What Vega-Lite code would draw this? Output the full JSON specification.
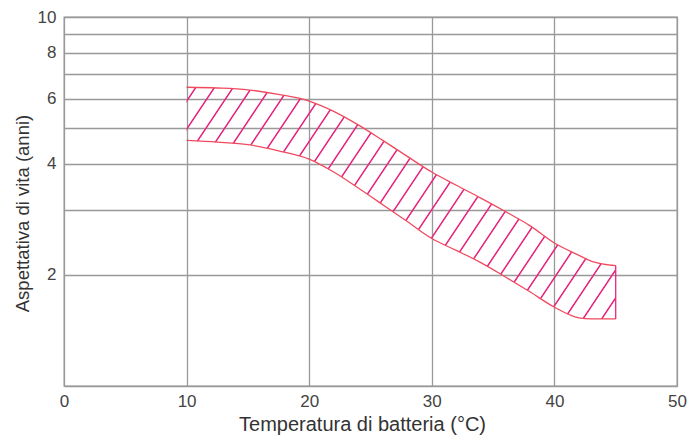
{
  "$schema": "https://vega.github.io/schema/vega-lite/v6.json",
  "width": 613,
  "height": 369,
  "autosize": {"type": "none"},
  "padding": {"left": 64, "top": 17, "right": 14, "bottom": 52},
  "background": "white",
  "config": {"font": "Liberation Sans", "view": {"stroke": "#999", "strokeWidth": 1.3}},
  "data": {"values": [
    {"x": 10, "upper": 6.45, "lower": 4.63},
    {"x": 12.5, "upper": 6.42, "lower": 4.58},
    {"x": 15, "upper": 6.35, "lower": 4.51},
    {"x": 17.5, "upper": 6.17, "lower": 4.34},
    {"x": 20, "upper": 5.92, "lower": 4.12},
    {"x": 22, "upper": 5.55, "lower": 3.80},
    {"x": 24, "upper": 5.10, "lower": 3.44},
    {"x": 26, "upper": 4.63, "lower": 3.10},
    {"x": 28, "upper": 4.19, "lower": 2.79},
    {"x": 30, "upper": 3.80, "lower": 2.51},
    {"x": 32, "upper": 3.50, "lower": 2.33},
    {"x": 34, "upper": 3.23, "lower": 2.16},
    {"x": 36, "upper": 2.97, "lower": 1.975},
    {"x": 38, "upper": 2.72, "lower": 1.80},
    {"x": 40, "upper": 2.44, "lower": 1.635},
    {"x": 42, "upper": 2.26, "lower": 1.53},
    {"x": 43, "upper": 2.18, "lower": 1.52},
    {"x": 44, "upper": 2.14, "lower": 1.52},
    {"x": 45, "upper": 2.12, "lower": 1.52}
  ]},
  "encoding": {
    "x": {
      "field": "x", "type": "quantitative",
      "scale": {"domain": [0, 50], "nice": false},
      "axis": {
        "values": [0, 10, 20, 30, 40, 50],
        "grid": true, "gridColor": "#999", "gridWidth": 1.3,
        "ticks": false, "domain": false, "labelFlush": false,
        "labelFontSize": 17, "labelColor": "#444", "labelPadding": 7,
        "title": "Temperatura di batteria (°C)", "titleFontSize": 20,
        "titleFontWeight": "normal", "titleColor": "#333", "titlePadding": 5,
        "titleX": 298
      }
    }
  },
  "layer": [
    {
      "mark": {
        "type": "area", "interpolate": "monotone",
        "fill": {
          "gradient": "linear", "x1": 0, "y1": 0, "x2": 1.2039, "y2": 0.4332,
          "stops": [
            {"offset": 0.0136, "color": "rgba(230,40,127,0)"}, {"offset": 0.0152, "color": "#e6287f"}, {"offset": 0.0168, "color": "#e6287f"}, {"offset": 0.0184, "color": "rgba(230,40,127,0)"},
            {"offset": 0.0456, "color": "rgba(230,40,127,0)"}, {"offset": 0.0472, "color": "#e6287f"}, {"offset": 0.0488, "color": "#e6287f"}, {"offset": 0.0504, "color": "rgba(230,40,127,0)"},
            {"offset": 0.0776, "color": "rgba(230,40,127,0)"}, {"offset": 0.0792, "color": "#e6287f"}, {"offset": 0.0808, "color": "#e6287f"}, {"offset": 0.0824, "color": "rgba(230,40,127,0)"},
            {"offset": 0.1096, "color": "rgba(230,40,127,0)"}, {"offset": 0.1112, "color": "#e6287f"}, {"offset": 0.1128, "color": "#e6287f"}, {"offset": 0.1144, "color": "rgba(230,40,127,0)"},
            {"offset": 0.1416, "color": "rgba(230,40,127,0)"}, {"offset": 0.1432, "color": "#e6287f"}, {"offset": 0.1448, "color": "#e6287f"}, {"offset": 0.1464, "color": "rgba(230,40,127,0)"},
            {"offset": 0.1736, "color": "rgba(230,40,127,0)"}, {"offset": 0.1752, "color": "#e6287f"}, {"offset": 0.1768, "color": "#e6287f"}, {"offset": 0.1784, "color": "rgba(230,40,127,0)"},
            {"offset": 0.2056, "color": "rgba(230,40,127,0)"}, {"offset": 0.2072, "color": "#e6287f"}, {"offset": 0.2088, "color": "#e6287f"}, {"offset": 0.2104, "color": "rgba(230,40,127,0)"},
            {"offset": 0.2376, "color": "rgba(230,40,127,0)"}, {"offset": 0.2392, "color": "#e6287f"}, {"offset": 0.2408, "color": "#e6287f"}, {"offset": 0.2424, "color": "rgba(230,40,127,0)"},
            {"offset": 0.2696, "color": "rgba(230,40,127,0)"}, {"offset": 0.2712, "color": "#e6287f"}, {"offset": 0.2728, "color": "#e6287f"}, {"offset": 0.2744, "color": "rgba(230,40,127,0)"},
            {"offset": 0.3016, "color": "rgba(230,40,127,0)"}, {"offset": 0.3032, "color": "#e6287f"}, {"offset": 0.3048, "color": "#e6287f"}, {"offset": 0.3064, "color": "rgba(230,40,127,0)"},
            {"offset": 0.3336, "color": "rgba(230,40,127,0)"}, {"offset": 0.3352, "color": "#e6287f"}, {"offset": 0.3368, "color": "#e6287f"}, {"offset": 0.3384, "color": "rgba(230,40,127,0)"},
            {"offset": 0.3656, "color": "rgba(230,40,127,0)"}, {"offset": 0.3672, "color": "#e6287f"}, {"offset": 0.3688, "color": "#e6287f"}, {"offset": 0.3704, "color": "rgba(230,40,127,0)"},
            {"offset": 0.3976, "color": "rgba(230,40,127,0)"}, {"offset": 0.3992, "color": "#e6287f"}, {"offset": 0.4008, "color": "#e6287f"}, {"offset": 0.4024, "color": "rgba(230,40,127,0)"},
            {"offset": 0.4296, "color": "rgba(230,40,127,0)"}, {"offset": 0.4312, "color": "#e6287f"}, {"offset": 0.4328, "color": "#e6287f"}, {"offset": 0.4344, "color": "rgba(230,40,127,0)"},
            {"offset": 0.4616, "color": "rgba(230,40,127,0)"}, {"offset": 0.4632, "color": "#e6287f"}, {"offset": 0.4648, "color": "#e6287f"}, {"offset": 0.4664, "color": "rgba(230,40,127,0)"},
            {"offset": 0.4936, "color": "rgba(230,40,127,0)"}, {"offset": 0.4952, "color": "#e6287f"}, {"offset": 0.4968, "color": "#e6287f"}, {"offset": 0.4984, "color": "rgba(230,40,127,0)"},
            {"offset": 0.5256, "color": "rgba(230,40,127,0)"}, {"offset": 0.5272, "color": "#e6287f"}, {"offset": 0.5288, "color": "#e6287f"}, {"offset": 0.5304, "color": "rgba(230,40,127,0)"},
            {"offset": 0.5576, "color": "rgba(230,40,127,0)"}, {"offset": 0.5592, "color": "#e6287f"}, {"offset": 0.5608, "color": "#e6287f"}, {"offset": 0.5624, "color": "rgba(230,40,127,0)"},
            {"offset": 0.5896, "color": "rgba(230,40,127,0)"}, {"offset": 0.5912, "color": "#e6287f"}, {"offset": 0.5928, "color": "#e6287f"}, {"offset": 0.5944, "color": "rgba(230,40,127,0)"},
            {"offset": 0.6216, "color": "rgba(230,40,127,0)"}, {"offset": 0.6232, "color": "#e6287f"}, {"offset": 0.6248, "color": "#e6287f"}, {"offset": 0.6264, "color": "rgba(230,40,127,0)"},
            {"offset": 0.6536, "color": "rgba(230,40,127,0)"}, {"offset": 0.6552, "color": "#e6287f"}, {"offset": 0.6568, "color": "#e6287f"}, {"offset": 0.6584, "color": "rgba(230,40,127,0)"},
            {"offset": 0.6856, "color": "rgba(230,40,127,0)"}, {"offset": 0.6872, "color": "#e6287f"}, {"offset": 0.6888, "color": "#e6287f"}, {"offset": 0.6904, "color": "rgba(230,40,127,0)"},
            {"offset": 0.7176, "color": "rgba(230,40,127,0)"}, {"offset": 0.7192, "color": "#e6287f"}, {"offset": 0.7208, "color": "#e6287f"}, {"offset": 0.7224, "color": "rgba(230,40,127,0)"},
            {"offset": 0.7496, "color": "rgba(230,40,127,0)"}, {"offset": 0.7512, "color": "#e6287f"}, {"offset": 0.7528, "color": "#e6287f"}, {"offset": 0.7544, "color": "rgba(230,40,127,0)"},
            {"offset": 0.7816, "color": "rgba(230,40,127,0)"}, {"offset": 0.7832, "color": "#e6287f"}, {"offset": 0.7848, "color": "#e6287f"}, {"offset": 0.7864, "color": "rgba(230,40,127,0)"},
            {"offset": 0.8136, "color": "rgba(230,40,127,0)"}, {"offset": 0.8152, "color": "#e6287f"}, {"offset": 0.8168, "color": "#e6287f"}, {"offset": 0.8184, "color": "rgba(230,40,127,0)"},
            {"offset": 0.8456, "color": "rgba(230,40,127,0)"}, {"offset": 0.8472, "color": "#e6287f"}, {"offset": 0.8488, "color": "#e6287f"}, {"offset": 0.8504, "color": "rgba(230,40,127,0)"},
            {"offset": 0.8776, "color": "rgba(230,40,127,0)"}, {"offset": 0.8792, "color": "#e6287f"}, {"offset": 0.8808, "color": "#e6287f"}, {"offset": 0.8824, "color": "rgba(230,40,127,0)"},
            {"offset": 0.9096, "color": "rgba(230,40,127,0)"}, {"offset": 0.9112, "color": "#e6287f"}, {"offset": 0.9128, "color": "#e6287f"}, {"offset": 0.9144, "color": "rgba(230,40,127,0)"},
            {"offset": 0.9416, "color": "rgba(230,40,127,0)"}, {"offset": 0.9432, "color": "#e6287f"}, {"offset": 0.9448, "color": "#e6287f"}, {"offset": 0.9464, "color": "rgba(230,40,127,0)"},
            {"offset": 0.9736, "color": "rgba(230,40,127,0)"}, {"offset": 0.9752, "color": "#e6287f"}, {"offset": 0.9768, "color": "#e6287f"}, {"offset": 0.9784, "color": "rgba(230,40,127,0)"}
          ]
        }
      },
      "encoding": {
        "y": {
          "field": "upper", "type": "quantitative",
          "scale": {"type": "log", "domain": [1, 10], "nice": false},
          "axis": {
            "values": [1, 2, 3, 4, 5, 6, 7, 8, 9, 10],
            "labelExpr": "datum.value % 2 == 0 ? datum.label : ''",
            "grid": true, "gridColor": "#999", "gridWidth": 1.3,
            "ticks": false, "domain": false, "labelFlush": false, "labelOverlap": false,
            "labelFontSize": 17, "labelColor": "#444", "labelPadding": 8,
            "title": "Aspettativa di vita (anni)", "titleFontSize": 18.5,
            "titleFontWeight": "normal", "titleColor": "#333", "titlePadding": 5,
            "titleY": 196
          }
        },
        "y2": {"field": "lower"}
      }
    },
    {
      "mark": {"type": "line", "interpolate": "monotone", "color": "#f04a5e", "strokeWidth": 1.3},
      "encoding": {"y": {"field": "upper", "type": "quantitative", "title": "Aspettativa di vita (anni)"}}
    },
    {
      "mark": {"type": "line", "interpolate": "monotone", "color": "#f04a5e", "strokeWidth": 1.3},
      "encoding": {"y": {"field": "lower", "type": "quantitative", "title": "Aspettativa di vita (anni)"}}
    },
    {
      "transform": [{"filter": "datum.x == 45"}],
      "mark": {"type": "rule", "color": "#e6287f", "strokeWidth": 1.3},
      "encoding": {
        "y": {"field": "lower", "type": "quantitative", "title": "Aspettativa di vita (anni)"},
        "y2": {"field": "upper"}
      }
    }
  ]
}
